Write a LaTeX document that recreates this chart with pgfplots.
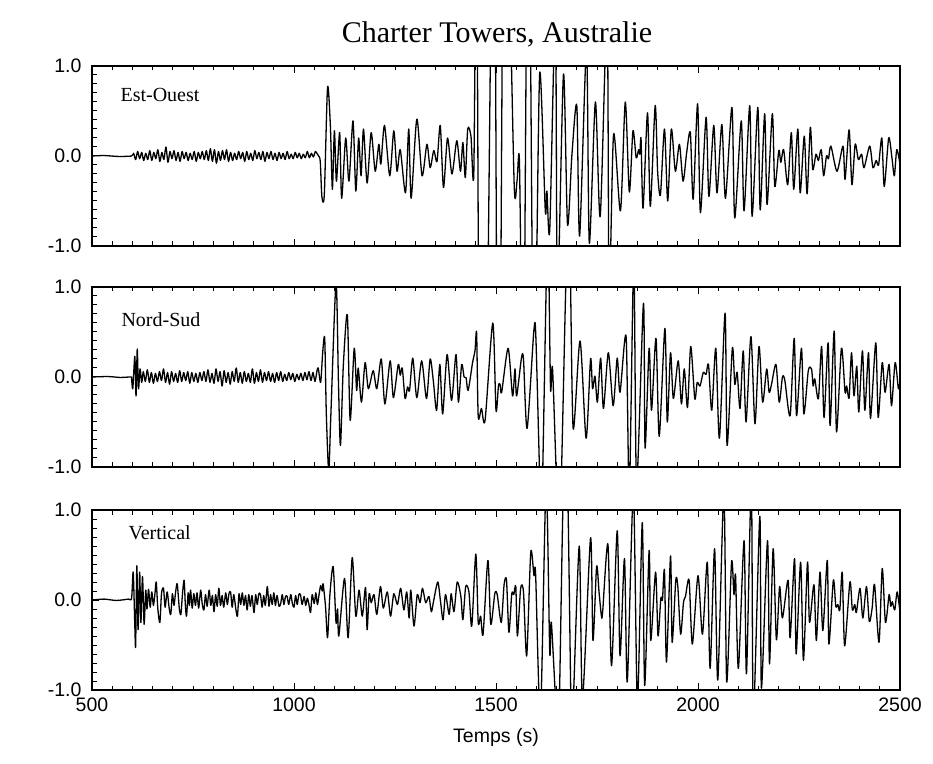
\documentclass[border=0pt]{standalone}
\usepackage{pgfplots}
\pgfplotsset{compat=1.18}
\usepackage{fontspec}
\setmainfont{Liberation Serif}
\newfontfamily\sansf{Liberation Sans}
\pgfplotsset{panel/.style={
  scale only axis, width=808pt, height=180pt, anchor=south west,
  xmin=500, xmax=2500, ymin=-1, ymax=1,
  xtick={500,1000,1500,2000,2500}, minor x tick num=9,
  ytick={-1,0,1}, yticklabels={-1.0,0.0,1.0}, minor y tick num=9,
  xtick pos=both, ytick pos=left, tick align=inside,
  major tick length=7pt, minor tick length=4.5pt,
  every tick/.style={black, line width=1pt},
  axis line style={line width=1.3pt},
  yticklabel style={font=\sansf\fontsize{19.5}{22}\selectfont, xshift=-7pt},
  xticklabel style={font=\sansf\fontsize{19.5}{22}\selectfont, yshift=-4pt},
  clip=true},
  trace/.style={black, line width=1.3pt, mark=none, line join=round, smooth, tension=0.45}}
\begin{document}
\begin{tikzpicture}
\path[use as bounding box] (0pt,0pt) rectangle (933pt,763pt);
\node[anchor=base, font=\fontsize{30}{36}\selectfont] at (497pt,720pt) {Charter Towers, Australie};
% ---------------- Est-Ouest ----------------
\begin{axis}[panel, at={(92pt,517pt)}, xticklabels={}]
\addplot[trace] coordinates {
(500,0) (530,0.005) (565,-0.005) (598,0)
(603,0.03) (608,-0.04) (613,0.05) (618,-0.03) (623,0.04) (628,-0.05) (633,0.03) (638,-0.04) (643,0.06) (648,-0.05) (653,0.04) (658,-0.03) (663,0.07) (668,-0.06) (673,0.04) (678,-0.04) (683,0.10) (688,-0.07) (693,0.05) (698,-0.03) (703,0.06) (708,-0.05) (713,0.04) (718,-0.06) (723,0.05) (728,-0.03) (733,0.04) (738,-0.05) (743,0.03) (748,-0.04) (753,0.05) (758,-0.06) (763,0.04) (768,-0.03) (773,0.05) (778,-0.04) (783,0.06) (788,-0.05) (793,0.08) (798,-0.06) (803,0.07) (808,-0.08) (813,0.05) (818,-0.05) (823,0.06) (828,-0.04) (833,0.07) (838,-0.06) (843,0.04) (848,-0.05) (853,0.03) (858,-0.04) (863,0.05) (868,-0.03) (873,0.04) (878,-0.06) (883,0.05) (888,-0.04) (893,0.03) (898,-0.05) (903,0.06) (908,-0.03) (913,0.04) (918,-0.04) (923,0.05) (928,-0.06) (933,0.04) (938,-0.03) (943,0.05) (948,-0.04) (953,0.03) (958,-0.05) (963,0.04) (968,-0.03) (973,0.03) (978,-0.04) (983,0.05) (988,-0.03) (993,0.02) (998,-0.03) (1003,0.04) (1008,-0.02) (1013,0.03) (1018,-0.03) (1023,0.02) (1028,-0.02) (1033,0.05) (1038,-0.02) (1043,0.03) (1048,-0.01) (1053,0.05) (1058,0.02)
(1061,0.0) (1065,-0.06) (1069,-0.45) (1075,-0.43) (1083,0.76) (1090,0.34) (1095,-0.37) (1100,0.28) (1105,-0.28) (1113,0.26) (1118,-0.47) (1128,0.20) (1136,-0.28) (1146,0.39) (1153,-0.39) (1160,0.20) (1166,-0.22) (1172,0.30) (1181,-0.30) (1191,0.26) (1201,-0.17) (1210,0.13) (1215,-0.09) (1224,0.34) (1237,-0.22) (1247,0.28) (1255,-0.17) (1263,0.07) (1276,-0.41) (1284,0.30) (1290,-0.47) (1304,0.41) (1317,-0.22) (1329,0.13) (1337,-0.13) (1346,0.06) (1354,-0.06) (1362,0.34) (1370,-0.35) (1380,0.20) (1391,-0.20) (1403,0.17) (1412,-0.17) (1418,0.15) (1424,-0.24) (1430,0.30) (1438,0.22) (1445,-0.20)
(1452,2.6) (1459,-2.6) (1476,-2.6) (1490,2.6) (1497,2.6) (1503,-2.6) (1510,-2.6) (1518,2.6) (1530,2.6) (1545,-0.32) (1552,-0.28) (1558,-0.06) (1565,-2.5) (1569,-2.5) (1577,2.5) (1583,2.5) (1592,-2.5) (1597,-2.5) (1608,0.91) (1622,-0.61) (1626,-0.39) (1633,-0.82) (1647,1.6) (1652,-1.6) (1667,0.91) (1677,-0.76) (1688,0.02) (1700,0.56) (1707,-0.89) (1724,1.2) (1731,-0.97) (1746,0.60) (1758,-0.67) (1775,1.6) (1780,-1.6) (1791,0.24) (1808,-0.61) (1820,0.60) (1830,-0.40)
(1839,0.28) (1847,-0.02) (1853,0.07) (1856,0.02) (1859,0.19) (1864,-0.58) (1875,0.48) (1882,-0.56) (1894,0.56) (1900,-0.17) (1907,-0.43) (1917,0.30) (1925,-0.50) (1934,0.30) (1944,-0.17) (1954,0.13) (1963,-0.28) (1972,0.04) (1981,0.26) (1988,-0.48) (1999,0.58) (2006,-0.63) (2020,0.43) (2027,-0.45) (2039,0.34) (2047,-0.41) (2059,0.35) (2068,-0.47) (2084,0.54) (2091,-0.69) (2107,0.39) (2114,-0.61) (2128,0.56) (2134,-0.67) (2148,0.54) (2154,-0.60) (2165,0.47) (2171,-0.54) (2184,0.47) (2190,-0.34) (2200,0.06) (2205,-0.07) (2212,0.07) (2222,-0.32) (2231,0.26) (2237,-0.37) (2247,0.30) (2253,-0.41) (2263,0.22) (2270,-0.42) (2278,0.32) (2284,-0.15) (2292,0.02) (2298,-0.05) (2305,0.07) (2311,-0.22) (2318,0.0) (2323,-0.03) (2329,0.11) (2344,-0.17) (2359,0.11) (2364,-0.26) (2374,0.29) (2381,-0.32) (2389,0.13) (2397,-0.04) (2405,0.02) (2411,-0.13) (2425,0.11) (2433,-0.13) (2441,-0.05) (2447,-0.10) (2455,0.20) (2461,-0.34) (2472,0.20) (2480,-0.02) (2486,-0.22) (2492,0.07) (2500,-0.09)
};
\node[anchor=base west, font=\fontsize{20}{24}\selectfont, xshift=25pt, yshift=-36pt] at (rel axis cs:0,1) {Est-Ouest};
\end{axis}
% ---------------- Nord-Sud ----------------
\begin{axis}[panel, at={(92pt,296pt)}, xticklabels={}]
\addplot[trace] coordinates {
(500,0) (540,0.005) (570,-0.005) (597,0) (598,-0.02) (601,-0.13) (606,0.23) (609,-0.21) (612,0.31) (615,-0.13) (619,0.09) (623,-0.06)
(627,0.06) (632,-0.05) (637,0.08) (642,-0.06) (647,0.05) (652,-0.07) (657,0.04) (662,-0.05) (667,0.06) (672,-0.04) (677,0.09) (682,-0.06) (687,0.05) (692,-0.08) (697,0.06) (702,-0.05) (707,0.04) (712,-0.06) (717,0.07) (722,-0.05) (727,0.05) (732,-0.04) (737,0.06) (742,-0.07) (747,0.05) (752,-0.05) (757,0.04) (762,-0.06) (767,0.05) (772,-0.04) (777,0.06) (782,-0.05) (787,0.08) (792,-0.06) (797,0.04) (802,-0.07) (807,0.09) (812,-0.05) (817,0.06) (822,-0.10) (827,0.07) (832,-0.06) (837,0.05) (842,-0.08) (847,0.06) (852,-0.05) (857,0.10) (862,-0.06) (867,0.05) (872,-0.07) (877,0.06) (882,-0.05) (887,0.04) (892,-0.06) (897,0.09) (902,-0.07) (907,0.05) (912,-0.05) (917,0.08) (922,-0.06) (927,0.05) (932,-0.04) (937,0.06) (942,-0.05) (947,0.04) (952,-0.06) (957,0.05) (962,-0.04) (967,0.06) (972,-0.05) (977,0.03) (982,-0.04) (987,0.05) (992,-0.03) (997,0.04) (1002,-0.05) (1007,0.03) (1012,-0.03) (1017,0.04) (1022,-0.04) (1027,0.05) (1032,-0.03) (1037,0.06) (1042,-0.04) (1047,0.05) (1052,-0.05) (1057,0.07) (1060,0.10)
(1066,-0.06) (1071,0.27) (1076,0.43) (1080,-0.41) (1086,-1.05) (1091,-0.45) (1104,1.05) (1110,-0.06) (1115,-0.76) (1122,0.12) (1132,0.69) (1139,-0.48) (1149,0.32) (1155,-0.15) (1159,0.10) (1167,-0.28) (1176,0.16) (1184,-0.13) (1196,0.07) (1205,-0.13) (1216,0.20) (1225,-0.30) (1238,0.18) (1246,-0.23) (1258,0.14) (1263,0.02) (1268,0.10) (1275,-0.24) (1281,-0.11) (1286,-0.15) (1294,0.21) (1304,-0.23) (1316,0.18) (1328,-0.24) (1337,0.20) (1345,-0.05) (1353,-0.37) (1361,0.14) (1368,-0.41) (1379,0.25) (1390,-0.26) (1401,0.25) (1407,-0.28) (1415,0.14) (1421,0.0) (1426,-0.01) (1431,-0.15) (1442,0.16) (1448,0.29) (1452,0.49) (1456,-0.44) (1464,-0.35) (1473,-0.48) (1492,0.60) (1500,-0.37) (1506,-0.10) (1510,-0.08) (1514,-0.17) (1530,0.32) (1541,-0.21) (1547,0.09) (1551,-0.21) (1563,0.21) (1568,0.20) (1577,-0.57) (1594,0.53) (1599,0.40)
(1610,-1.4) (1614,-1.4) (1626,1.4) (1630,1.4) (1635,-0.13) (1640,0.09) (1652,-1.4) (1660,-1.4) (1675,1.4) (1683,1.4) (1691,-0.57) (1708,0.40) (1723,-0.68) (1734,0.20) (1739,-0.13) (1745,0.01) (1751,-0.28) (1759,0.21) (1766,-0.35) (1778,0.27) (1790,-0.32) (1800,0.21) (1807,-0.17) (1822,0.45) (1830,-1.3) (1841,1.3) (1848,-1.2)
(1865,0.82) (1869,-0.79) (1879,0.32) (1885,-0.37) (1896,0.43) (1904,-0.66) (1918,0.54) (1924,-0.50) (1932,0.27) (1939,-0.24) (1951,0.18) (1959,-0.30) (1966,0.09) (1974,-0.34) (1982,0.34) (1992,-0.24) (1998,-0.06) (2005,-0.10) (2013,0.05) (2020,0.03) (2026,0.14) (2034,-0.37) (2044,0.32) (2053,-0.68) (2067,0.71) (2072,-0.76) (2085,0.32) (2091,-0.08) (2097,0.05) (2104,-0.35) (2112,0.29) (2119,-0.50) (2131,0.45) (2141,-0.52) (2151,0.34) (2160,-0.28) (2170,0.09) (2176,-0.17) (2182,-0.08) (2193,0.14) (2201,-0.28) (2209,0.0) (2215,-0.04) (2228,-0.43) (2238,0.43) (2244,-0.43) (2256,0.32) (2262,-0.41) (2273,0.07) (2281,0.09) (2285,-0.10) (2289,-0.02) (2298,-0.24) (2306,0.34) (2312,-0.45) (2322,0.38) (2327,-0.54) (2337,0.51) (2343,-0.61) (2355,0.32) (2364,-0.17) (2368,-0.10) (2374,-0.23) (2380,0.27) (2386,-0.21) (2393,0.12) (2398,-0.39) (2407,0.29) (2413,-0.37) (2422,0.27) (2427,-0.46) (2440,0.38) (2446,-0.45) (2456,0.16) (2463,-0.17) (2473,0.14) (2479,-0.32) (2488,0.16) (2496,-0.13) (2500,-0.05)
};
\node[anchor=base west, font=\fontsize{20}{24}\selectfont, xshift=26pt, yshift=-40pt] at (rel axis cs:0,1) {Nord-Sud};
\end{axis}
% ---------------- Vertical ----------------
\begin{axis}[panel, at={(92pt,73pt)},
  xticklabels={500,1000,1500,2000,2500},
  xlabel={Temps (s)},
  xlabel style={font=\sansf\fontsize{19.5}{22}\selectfont, at={(axis description cs:0.5,0)}, anchor=base, yshift=-52pt}]
\addplot[trace] coordinates {
(500,0) (530,0.01) (560,-0.005) (590,0.01) (598,0.02)
(602,0.31) (606,-0.29) (608,-0.51) (611,0.38) (614,-0.33) (618,0.31) (621,-0.25) (625,0.26) (629,-0.27) (633,0.11)
(636,-0.10) (640,0.12) (644,-0.08) (648,0.09) (652,-0.06) (656,0.08) (659,0.20) (663,-0.10) (668,-0.25) (672,0.07) (677,0.13) (681,-0.08) (686,0.09) (691,-0.09) (695,-0.16) (699,0.07) (703,-0.06) (707,0.09) (711,0.18) (716,-0.09) (720,-0.16) (724,0.07) (728,0.22) (731,-0.05) (734,-0.18) (738,0.08) (741,-0.06) (744,0.11) (748,-0.09) (752,0.07) (756,-0.06) (760,0.08) (764,-0.09) (769,0.11) (773,-0.05) (777,-0.11) (781,0.06) (785,-0.07) (790,0.11) (794,-0.06) (798,0.05) (802,-0.13) (806,0.06) (810,-0.07) (814,0.13) (818,-0.06) (822,0.05) (826,-0.08) (831,0.08) (835,-0.05) (839,0.07) (843,0.09) (847,-0.08) (851,0.06) (856,-0.10) (860,-0.18) (864,0.07) (868,-0.05) (872,0.08) (876,-0.06) (880,0.05) (884,-0.11) (888,0.06) (892,-0.07) (896,0.05) (901,-0.14) (905,0.06) (909,-0.05) (913,0.07) (917,0.06) (921,-0.08) (925,0.05) (929,-0.06) (934,0.15) (938,-0.07) (942,0.06) (946,-0.05) (950,0.08) (954,-0.06) (958,0.05) (963,-0.07) (967,-0.04) (971,0.06) (975,-0.05) (979,0.04) (983,0.04) (987,-0.05) (992,0.06) (996,-0.04) (1000,-0.08) (1004,0.05) (1008,-0.05) (1012,0.06) (1016,0.06) (1020,-0.05) (1025,0.04) (1029,-0.06) (1033,0.02) (1037,-0.05) (1041,-0.14) (1045,0.06) (1050,-0.04) (1054,0.08) (1058,-0.05) (1062,0.06)
(1066,0.16) (1070,0.10) (1072,0.18) (1078,-0.07) (1083,-0.42) (1089,0.07) (1097,0.37) (1104,-0.25) (1108,-0.10) (1111,-0.40) (1125,0.24) (1134,-0.42) (1144,0.47) (1153,-0.18) (1161,0.11) (1169,-0.18) (1177,0.14) (1181,-0.33) (1186,0.07) (1191,-0.03) (1198,0.06) (1205,-0.16) (1214,0.15) (1221,-0.09) (1231,0.09) (1239,-0.18) (1247,0.07) (1256,-0.05) (1264,0.13) (1272,-0.11) (1279,0.09) (1285,-0.20) (1289,0.11) (1297,-0.29) (1305,0.06) (1312,-0.03) (1318,0.13) (1326,-0.03) (1334,0.04) (1340,-0.13) (1346,0.00) (1356,0.20) (1363,-0.03) (1369,-0.22) (1375,0.06) (1384,-0.16) (1389,0.07) (1396,-0.13) (1404,0.20) (1413,0.04) (1418,-0.22) (1425,0.15) (1433,0.09) (1440,-0.29) (1450,0.51) (1456,-0.25) (1462,-0.18) (1468,-0.38) (1480,0.44) (1487,-0.27) (1497,0.07) (1503,0.06) (1513,-0.25) (1520,0.17) (1526,0.22) (1532,-0.36) (1539,0.07) (1544,0.06) (1549,0.15) (1553,-0.40) (1561,0.13) (1568,0.09) (1576,-0.62) (1586,0.53) (1594,0.27) (1598,0.29)
(1610,-1.3) (1624,1.3) (1633,-0.58) (1637,-0.25) (1650,-1.3) (1656,-1.3) (1667,1.3) (1677,1.3) (1686,-1.3) (1690,-1.3) (1706,0.60) (1714,-1.1) (1734,0.69) (1740,-0.45) (1749,0.37) (1755,0.09) (1761,-0.18) (1764,-0.13) (1777,0.62) (1786,-0.73) (1800,0.77) (1807,-0.62) (1818,0.46) (1825,-0.91) (1840,1.2) (1850,-1.15)
(1862,0.86) (1868,-0.95) (1879,0.55) (1883,-0.45) (1895,0.31) (1901,-0.40) (1908,0.02) (1912,0.00) (1917,0.33) (1922,-0.69) (1932,0.49) (1936,-0.47) (1945,0.22) (1950,0.15) (1957,-0.38) (1964,-0.03) (1969,0.04) (1978,0.22) (1986,-0.49) (2000,0.27) (2011,-0.38) (2023,0.42) (2030,-0.76) (2041,0.57) (2049,-0.89) (2064,1.2) (2071,-0.91) (2083,0.42) (2089,0.06) (2093,0.27) (2100,-0.76) (2114,0.66) (2120,-0.82) (2132,1.3) (2137,-1.3) (2153,0.93) (2157,-0.98) (2172,0.66) (2177,-0.71) (2186,0.57) (2194,-0.44) (2202,0.15) (2209,-0.20) (2223,0.22) (2228,-0.42) (2239,0.46) (2243,-0.60) (2254,0.42) (2261,-0.67) (2271,0.42) (2276,-0.25) (2287,0.17) (2293,-0.45) (2302,0.31) (2309,-0.34) (2320,0.44) (2324,-0.49) (2335,0.22) (2341,-0.07) (2346,-0.05) (2351,-0.11) (2357,0.31) (2363,-0.51) (2376,0.20) (2382,-0.11) (2388,-0.05) (2392,-0.14) (2401,0.13) (2408,-0.20) (2417,0.15) (2424,-0.24) (2431,-0.09) (2437,0.17) (2448,-0.47) (2456,0.35) (2464,-0.25) (2473,0.06) (2477,-0.07) (2481,-0.02) (2487,-0.11) (2493,0.09) (2500,-0.14)
};
\node[anchor=base west, font=\fontsize{20}{24}\selectfont, xshift=33pt, yshift=-29pt] at (rel axis cs:0,1) {Vertical};
\end{axis}
\end{tikzpicture}
\end{document}
